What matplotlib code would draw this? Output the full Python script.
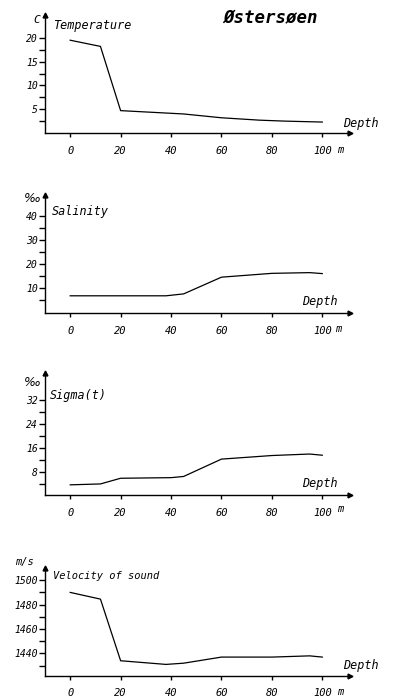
import matplotlib
matplotlib.use("Agg")
import matplotlib.pyplot as plt

# data (depth in m)
depth_temp = [0, 12, 20, 45, 60, 75, 85, 100]
temperature = [19.5, 18.2, 4.7, 4.0, 3.2, 2.7, 2.5, 2.3]

depth_sal = [0, 38, 45, 60, 80, 95, 100]
salinity = [6.8, 6.8, 7.6, 14.6, 16.2, 16.5, 16.1]

depth_sig = [0, 12, 20, 40, 45, 60, 80, 95, 100]
sigma_t = [3.6, 3.9, 5.8, 6.0, 6.4, 12.2, 13.4, 13.9, 13.5]

depth_vel = [0, 12, 20, 38, 45, 60, 80, 95, 100]
velocity = [1490, 1484.5, 1434, 1431, 1432, 1437, 1437, 1438, 1437]

x_ticks = [0, 20, 40, 60, 80, 100]

titles = ["Temperature", "Salinity", "Sigma(t)", "Velocity of sound"]
units = ["C", "‰", "‰", "m/s"]
y_major = [[5, 10, 15, 20], [10, 20, 30, 40], [8, 16, 24, 32], [1440, 1460, 1480, 1500]]
y_minor = [[2.5, 7.5, 12.5, 17.5], [5, 15, 25, 35], [4, 12, 20, 28], [1430, 1450, 1470, 1490]]
y_lims = [(0, 24.8), (-0.4, 49), (0.2, 41), (1421.5, 1510)]

plt.rcParams['font.family'] = 'DejaVu Sans Mono'
plt.rcParams['font.style'] = 'oblique'

W, H = 393, 699
fig = plt.figure(figsize=(W / 100, H / 100), dpi=100)

def px(x, y):
    return x / W, 1 - y / H

# axes boxes in pixels: left, top(arrow), right(arrow), bottom(x axis)
boxes = [(45, 15, 350, 133), (45, 195, 350, 313), (45, 373, 350, 495), (45, 568, 350, 676)]
# label positions in pixels
unit_pos = [(37, 20), (32, 199), (32, 382), (24, 562)]
unit_size = [8, 9, 9, 7.5]
title_pos = [(53, 26), (52, 211), (50, 396), (53, 576)]
title_size = [8.5, 8.5, 8.5, 7.5]
depth_pos = [(343, 123), (302, 302), (302, 484), (343, 665)]
m_pos = [(340, 150), (338, 329), (340, 509), (340, 692)]

series = [(depth_temp, temperature), (depth_sal, salinity),
          (depth_sig, sigma_t), (depth_vel, velocity)]

for i, (xs, ys) in enumerate(series):
    l, t, r, b = boxes[i]
    ax = fig.add_axes([l / W, 1 - b / H, (r - l) / W, (b - t) / H])
    ax.plot(xs, ys, color='black', lw=0.9)
    ax.set_xlim(-10, 111)
    ax.set_ylim(*y_lims[i])
    for s in ['top', 'right']:
        ax.spines[s].set_visible(False)
    for s in ['left', 'bottom']:
        ax.spines[s].set_linewidth(1.0)
    ax.set_xticks(x_ticks)
    ax.set_yticks(y_major[i])
    ax.set_yticks(y_minor[i], minor=True)
    ax.tick_params(axis='x', length=3, width=1, pad=6, labelsize=7.5)
    ax.tick_params(axis='y', which='both', length=4, width=1, pad=1, labelsize=7)
    ax.plot(1, 0, '>k', ms=3.5, transform=ax.transAxes, clip_on=False)
    ax.plot(0, 1, '^k', ms=3.5, transform=ax.transAxes, clip_on=False)

    fam = 'DejaVu Sans' if units[i] == '‰' else 'DejaVu Sans Mono'
    fig.text(*px(*unit_pos[i]), units[i], fontsize=unit_size[i], family=fam,
             ha='center', va='center')
    fig.text(*px(*title_pos[i]), titles[i], fontsize=title_size[i], ha='left', va='center')
    fig.text(*px(*depth_pos[i]), "Depth", fontsize=8.5, ha='left', va='center')
    fig.text(*px(*m_pos[i]), "m", fontsize=7.5, ha='center', va='center')

fig.text(*px(223, 18), "Østersøen", fontsize=12.5, fontweight='bold',
         ha='left', va='center')

fig.savefig("out.png", dpi=100, facecolor='white')
